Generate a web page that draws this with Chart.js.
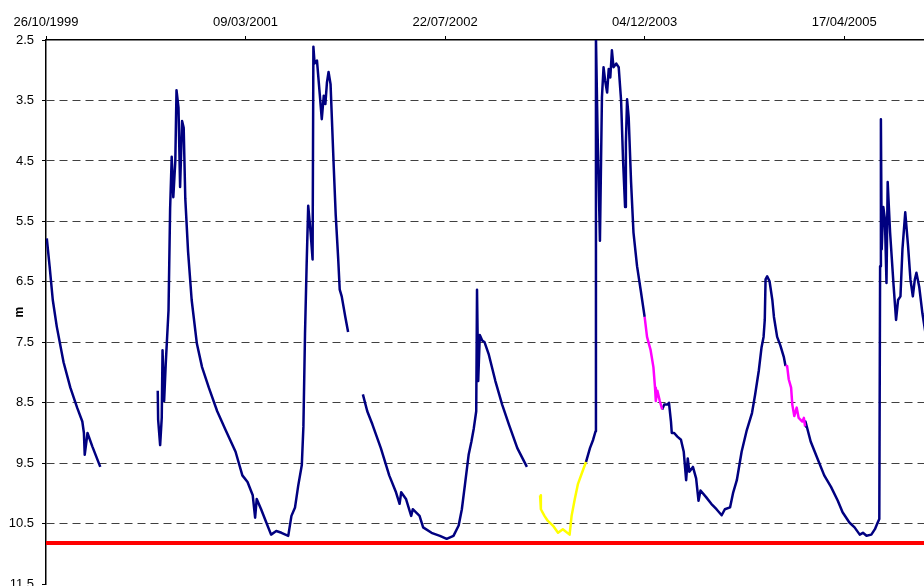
<!DOCTYPE html>
<html>
<head>
<meta charset="utf-8">
<script src="https://cdn.jsdelivr.net/npm/chart.js@4"></script>
<style>
  html, body { margin: 0; padding: 0; background: #fff; overflow: hidden; }
  canvas { display: block; }
</style>
</head>
<body>
<canvas id="chart" width="924" height="600"></canvas>
<script>
// Date axis: days counted from 26/10/1999, labelled every 500 days
const dayRange = [0, 2200];
const tickDays = [0, 500, 1000, 1500, 2000];
const tickLabels = ['26/10/1999', '09/03/2001', '22/07/2002', '04/12/2003', '17/04/2005'];

// Depth axis (m), drawn downwards
const depthTicks = [2.5, 3.5, 4.5, 5.5, 6.5, 7.5, 8.5, 9.5, 10.5, 11.5];

// Measured water level; a null depth breaks the line
const navyDays = [
  2, 9, 17, 27, 44, 61, 78, 91, 95, 97, 104, 116, 136,
  200,
  280, 281, 286, 290, 292, 296, 300, 307, 311, 315, 319, 324, 327, 332, 336, 341, 345, 349, 356, 365,
  378, 391, 408, 429, 450, 475, 492, 505, 518, 524, 528, 539, 552, 564, 577, 590, 607, 615, 624, 632,
  641, 645, 649, 653, 657, 663, 668, 670, 673, 679, 686, 691, 696, 700, 704, 708, 713, 721, 726, 732,
  736, 741, 750, 757,
  775,
  794, 805, 818, 839, 860, 877, 886, 890, 902, 915, 919, 936, 945, 966, 987, 1004, 1021, 1034, 1042, 1050,
  1059, 1066, 1072, 1078, 1080, 1083, 1087, 1093, 1099, 1109, 1126, 1143, 1160, 1181, 1205,
  1220,
  1353, 1363, 1371, 1377, 1378, 1382, 1388, 1393, 1397, 1401, 1406, 1410, 1414, 1418, 1422, 1429, 1435,
  1441, 1446, 1451, 1453, 1456, 1460, 1466, 1472, 1481, 1490, 1500,
  1520,
  1544, 1549, 1557, 1561, 1566, 1568, 1574, 1582, 1591, 1598, 1604, 1608, 1612, 1621, 1629, 1635, 1640,
  1654, 1667, 1680, 1693, 1701, 1714, 1722, 1731, 1743, 1756, 1769, 1777, 1786, 1793, 1798, 1801, 1803,
  1807, 1813, 1820, 1824, 1832, 1840, 1849, 1853,
  1880,
  1902, 1903, 1916, 1933, 1950, 1967, 1984, 1996, 2013, 2026, 2039, 2047, 2056, 2068, 2077, 2084, 2088,
  2090, 2092, 2094, 2098, 2102, 2106, 2109, 2115, 2124, 2130, 2135, 2141, 2146, 2153, 2160, 2166, 2172,
  2177, 2181, 2188, 2196, 2204
];
const navyDepths = [
  5.78, 6.24, 6.80, 7.24, 7.83, 8.25, 8.58, 8.81, 9.00, 9.36, 9.00, 9.22, 9.56,
  null,
  8.30, 8.78, 9.20, 8.75, 7.63, 8.47, 7.86, 6.97, 5.29, 4.43, 5.10, 4.51, 3.33, 3.62, 4.93, 3.84, 3.95, 5.12, 6.00, 6.80,
  7.52, 7.91, 8.25, 8.64, 8.95, 9.31, 9.70, 9.81, 10.03, 10.40, 10.09, 10.26, 10.48, 10.68, 10.62, 10.65, 10.70, 10.37, 10.23, 9.87,
  9.53, 8.89, 7.36, 6.24, 5.24, 5.68, 6.13, 2.61, 2.89, 2.84, 3.40, 3.81, 3.42, 3.56, 3.20, 3.03, 3.23, 4.60, 5.40, 6.10,
  6.63, 6.74, 7.08, 7.33,
  null,
  8.36, 8.64, 8.86, 9.25, 9.70, 9.98, 10.17, 9.98, 10.09, 10.37, 10.26, 10.37, 10.56, 10.65, 10.70, 10.75, 10.70, 10.53, 10.26, 9.84,
  9.36, 9.14, 8.92, 8.64, 6.63, 8.14, 7.38, 7.47, 7.50, 7.69, 8.14, 8.53, 8.86, 9.25, 9.56,
  null,
  9.48, 9.25, 9.11, 8.97, 2.45, 4.01, 5.82, 3.45, 2.95, 3.17, 3.37, 2.98, 3.12, 2.67, 2.95, 2.89, 2.95,
  3.50, 4.50, 5.26, 4.20, 3.48, 3.78, 4.85, 5.68, 6.24, 6.63, 7.08,
  null,
  8.61, 8.53, 8.53, 8.50, 8.81, 9.00, 9.00, 9.06, 9.11, 9.31, 9.78, 9.42, 9.64, 9.56, 9.75, 10.12, 9.95,
  10.06, 10.17, 10.26, 10.36, 10.26, 10.23, 9.98, 9.78, 9.31, 8.95, 8.67, 8.36, 7.97, 7.58, 7.41, 7.13, 6.46,
  6.41, 6.49, 6.80, 7.08, 7.41, 7.55, 7.75, 7.89,
  null,
  8.89, 8.81, 9.14, 9.42, 9.70, 9.89, 10.12, 10.31, 10.48, 10.56, 10.68, 10.65, 10.70, 10.68, 10.59, 10.48, 10.42,
  6.24, 3.81, 5.96, 5.26, 5.46, 6.52, 4.85, 5.68, 6.58, 7.13, 6.80, 6.74, 5.96, 5.35, 5.90, 6.46, 6.74,
  6.46, 6.35, 6.58, 7.02, 7.36
];

// Stretch recorded with the second logger
const yellowDays = [1238, 1240, 1249, 1257, 1270, 1283, 1295, 1312, 1317, 1325, 1333, 1344, 1353];
const yellowDepths = [10.03, 10.26, 10.37, 10.45, 10.53, 10.65, 10.59, 10.68, 10.37, 10.09, 9.84, 9.64, 9.48];

// Manual readings
const magentaDays = [1500, 1506, 1515, 1522, 1526, 1528, 1532, 1538, 1544,
  1700,
  1853, 1857, 1861, 1867, 1870, 1875, 1881, 1886, 1895, 1899, 1902];
const magentaDepths = [7.08, 7.41, 7.63, 7.91, 8.25, 8.47, 8.30, 8.47, 8.61,
  null,
  7.89, 7.89, 8.11, 8.25, 8.53, 8.72, 8.58, 8.75, 8.81, 8.75, 8.89];

// Pump intake level
const limitDepth = 10.82;

function toPoints(days, depths) {
  return days.map((d, i) => ({ x: d, y: depths[i] }));
}

Chart.defaults.font.family = "'Liberation Sans', Arial, sans-serif";
Chart.defaults.color = '#000';

new Chart(document.getElementById('chart'), {
  type: 'line',
  data: {
    datasets: [
      { data: toPoints(yellowDays, yellowDepths), borderColor: '#FFFF00', borderWidth: 2.5 },
      { data: toPoints(magentaDays, magentaDepths), borderColor: '#FF00FF', borderWidth: 2.5 },
      { data: toPoints(navyDays, navyDepths), borderColor: '#000080', borderWidth: 2.5 },
      { data: [{ x: dayRange[0], y: limitDepth }, { x: dayRange[1], y: limitDepth }],
        borderColor: '#FF0000', borderWidth: 4 }
    ]
  },
  options: {
    responsive: false,
    animation: false,
    devicePixelRatio: 1,
    layout: { padding: { left: 0, right: 0, top: 0, bottom: 15 } },
    elements: {
      point: { radius: 0, hoverRadius: 0 },
      line: { tension: 0, borderJoinStyle: 'round', fill: false }
    },
    plugins: { legend: { display: false }, tooltip: { enabled: false } },
    scales: {
      x: {
        type: 'linear',
        position: 'top',
        min: dayRange[0],
        max: dayRange[1],
        afterBuildTicks: s => { s.ticks = tickDays.map(v => ({ value: v })); },
        afterFit: s => { s.height = 40; },
        ticks: {
          callback: (v, i) => tickLabels[i],
          autoSkip: false, maxRotation: 0, padding: 6,
          font: { size: 13 }, color: '#000'
        },
        grid: { drawOnChartArea: false, drawTicks: true, tickLength: 4, tickColor: '#000', tickWidth: 1 },
        border: { display: true, color: '#000', width: 1.5 }
      },
      y: {
        type: 'linear',
        reverse: true,
        min: depthTicks[0],
        max: depthTicks[depthTicks.length - 1],
        afterBuildTicks: s => { s.ticks = depthTicks.map(v => ({ value: v })); },
        afterFit: s => { s.width = 46; },
        ticks: {
          callback: v => v.toFixed(1),
          padding: 8,
          font: { size: 13 }, color: '#000'
        },
        grid: {
          color: c => (c.index === 0 || c.index === depthTicks.length - 1) ? 'rgba(0,0,0,0)' : '#404040',
          lineWidth: 1,
          tickLength: 4, tickColor: '#000', tickWidth: 1, tickBorderDash: []
        },
        border: { display: true, color: '#000', width: 1.5, dash: [8, 5] },
        title: {
          display: true, text: 'm',
          font: { size: 12, weight: 'bold' }, color: '#000',
          padding: { top: 12, bottom: 0 }
        }
      }
    }
  }
});
</script>
</body>
</html>
